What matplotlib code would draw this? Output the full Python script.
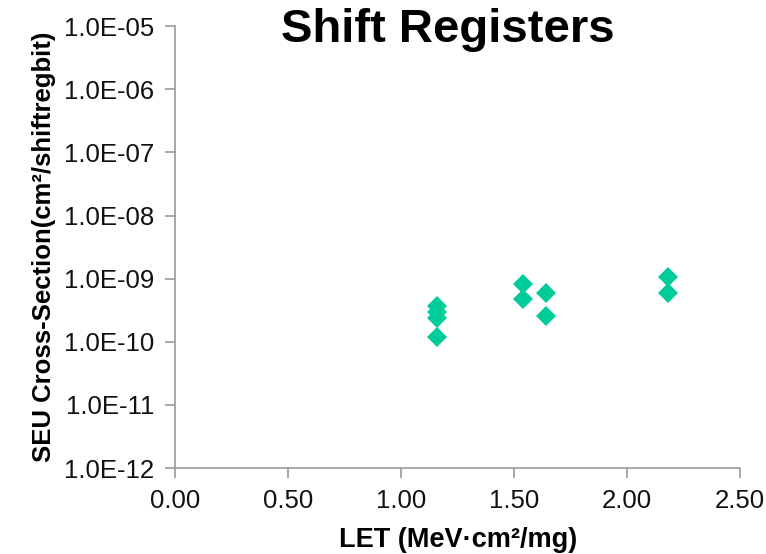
import matplotlib
matplotlib.use("Agg")
import matplotlib.pyplot as plt
from matplotlib.ticker import FixedLocator, FuncFormatter

plt.rcParams['font.family'] = ['Liberation Sans', 'DejaVu Sans']

let = [1.16, 1.16, 1.16, 1.16, 1.54, 1.54, 1.64, 1.64, 2.18, 2.18]
xsec = [3.7e-10, 3.0e-10, 2.4e-10, 1.2e-10, 8.2e-10, 4.7e-10, 6.0e-10, 2.55e-10, 1.05e-9, 6.0e-10]
xticks = [0.0, 0.5, 1.0, 1.5, 2.0, 2.5]
yticks = [1e-12, 1e-11, 1e-10, 1e-9, 1e-8, 1e-7, 1e-6, 1e-5]

fig = plt.figure(figsize=(7.66, 5.54), dpi=100)
ax = fig.add_axes([0.229, 0.155, 0.737, 0.798])
ax.plot(let, xsec, linestyle='none', marker='D', markersize=10.5, color='#00CC99', markeredgewidth=0)
ax.set_yscale('log')
ax.set_xlim(0, 2.5)
ax.set_ylim(1e-12, 1e-5)
ax.xaxis.set_major_locator(FixedLocator(xticks))
ax.yaxis.set_major_locator(FixedLocator(yticks))
ax.yaxis.set_minor_locator(FixedLocator([]))
ax.xaxis.set_major_formatter(FuncFormatter(lambda v, p: f"{v:.2f}"))
ax.yaxis.set_major_formatter(FuncFormatter(lambda v, p: f"{v:.1E}"))
for s in ['top', 'right']:
    ax.spines[s].set_visible(False)
for s in ['left', 'bottom']:
    ax.spines[s].set_color('#999999')
    ax.spines[s].set_linewidth(1.2)
ax.tick_params(axis='both', which='major', direction='out', length=7, width=1.2, color='#999999',
               labelsize=18.5, labelcolor='#111111', pad=8)
ax.set_xlabel('LET (MeV·cm²/mg)', fontsize=19.5, fontweight='bold', labelpad=10)
ax.set_ylabel('SEU Cross-Section(cm²/shiftregbit)', fontsize=18.5, fontweight='bold', labelpad=6)
fig.text(0.584, 0.945, 'Shift Registers', fontsize=34, fontweight='bold', ha='center', va='center')
fig.savefig('out.png', dpi=100)
